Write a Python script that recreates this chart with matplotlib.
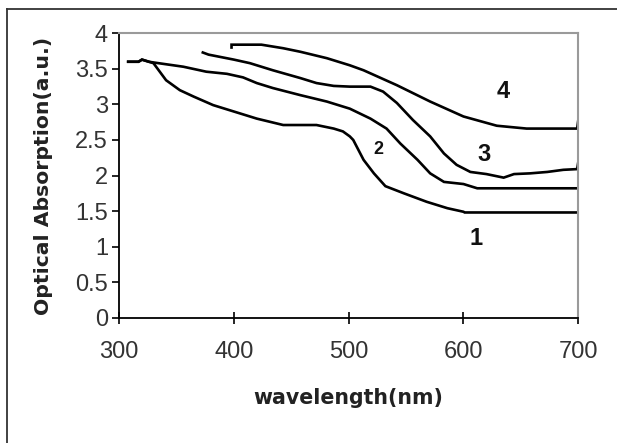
import matplotlib
matplotlib.use("Agg")
import matplotlib.pyplot as plt
from matplotlib.lines import Line2D
from matplotlib import font_manager

# ---- data ----
x1 = [308, 317, 320, 326, 330, 341, 353, 365, 382, 400, 420, 443, 472, 487, 495, 501, 504, 513, 522, 532, 548, 568, 586, 600, 601, 700]
y1 = [3.60, 3.60, 3.63, 3.60, 3.58, 3.34, 3.20, 3.11, 2.99, 2.90, 2.80, 2.71, 2.71, 2.66, 2.62, 2.55, 2.50, 2.22, 2.03, 1.85, 1.75, 1.63, 1.54, 1.49, 1.48, 1.48]

x2 = [308, 317, 320, 326, 330, 356, 376, 394, 408, 420, 434, 458, 481, 501, 519, 533, 545, 560, 571, 583, 600, 612, 700]
y2 = [3.60, 3.60, 3.63, 3.60, 3.59, 3.53, 3.46, 3.43, 3.38, 3.30, 3.23, 3.13, 3.04, 2.94, 2.80, 2.66, 2.45, 2.22, 2.03, 1.91, 1.88, 1.82, 1.82]

x3 = [373, 378, 400, 414, 434, 458, 472, 487, 501, 519, 530, 542, 556, 571, 583, 594, 606, 620, 635, 644, 658, 673, 687, 699, 700]
y3 = [3.73, 3.70, 3.63, 3.58, 3.48, 3.37, 3.30, 3.26, 3.25, 3.25, 3.18, 3.02, 2.78, 2.55, 2.31, 2.15, 2.05, 2.02, 1.97, 2.02, 2.03, 2.05, 2.08, 2.09, 2.19]

x4 = [398, 398, 400, 424, 443, 458, 481, 501, 513, 542, 571, 600, 629, 655, 699, 700]
y4 = [3.80, 3.84, 3.84, 3.84, 3.79, 3.74, 3.65, 3.55, 3.48, 3.27, 3.04, 2.83, 2.70, 2.66, 2.66, 2.78]

series = [(x1, y1), (x2, y2), (x3, y3), (x4, y4)]
curve_labels = ["1", "2", "3", "4"]
label_x = [611, 526, 618, 635]
label_y = [1.12, 2.36, 2.29, 3.18]
label_sizes = [17, 13, 17, 17]

x_ticks = [300, 400, 500, 600, 700]
y_ticks = [0, 0.5, 1, 1.5, 2, 2.5, 3, 3.5, 4]
y_tick_labels = ["0", "0.5", "1", "1.5", "2", "2.5", "3", "3.5", "4"]

# ---- figure ----
W, H = 617, 443
fig = plt.figure(figsize=(W / 100, H / 100), dpi=100)
plt.rcParams['font.family'] = ['Liberation Sans', 'DejaVu Sans']

names = {f.name for f in font_manager.fontManager.ttflist}
narrow = 'Liberation Sans Narrow' if 'Liberation Sans Narrow' in names else 'Liberation Sans'

# outer frame (left and top edges visible)
fig.add_artist(Line2D([6.5 / W, 6.5 / W], [0, 1 - 8.5 / H], transform=fig.transFigure,
                      color='#333333', linewidth=1.3))
fig.add_artist(Line2D([6.5 / W, 1], [1 - 8.5 / H, 1 - 8.5 / H], transform=fig.transFigure,
                      color='#333333', linewidth=1.3))

ax = fig.add_axes([119 / W, 1 - 317.7 / H, (578.3 - 119) / W, (317.7 - 33.3) / H])

for (xs, ys) in series:
    ax.plot(xs, ys, color='black', linewidth=1.9, solid_joinstyle='miter')

for lab, lx, ly, ls in zip(curve_labels, label_x, label_y, label_sizes):
    ax.text(lx, ly, lab, fontsize=ls, fontweight='bold', family=[narrow, 'DejaVu Sans'],
            ha='center', va='center', color='#111111')

ax.set_xlim(300, 700)
ax.set_ylim(0, 4)
ax.set_xticks(x_ticks)
ax.set_yticks(y_ticks)
ax.set_yticklabels(y_tick_labels)

for s in ['left', 'bottom']:
    ax.spines[s].set_color('black')
    ax.spines[s].set_linewidth(1.3)
for s in ['top', 'right']:
    ax.spines[s].set_color('#9a9a9a')
    ax.spines[s].set_linewidth(1.5)

ax.tick_params(axis='x', direction='inout', length=8, width=1.2,
               labelsize=17, colors='black', labelcolor='#333333', pad=13)
ax.tick_params(axis='y', direction='out', length=5, width=1.2,
               labelsize=17, colors='black', labelcolor='#333333', pad=3)

fig.text(348 / W, 1 - 398 / H, "wavelength(nm)", fontsize=14.8, fontweight='bold',
         family=['DejaVu Sans'], color='#222222', ha='center', va='center')
fig.text(44 / W, 1 - 176 / H, "Optical Absorption(a.u.)", fontsize=14.7, fontweight='bold',
         family=['DejaVu Sans'], color='#222222', ha='center', va='center', rotation=90)

fig.savefig("out.png", dpi=100, facecolor='white')
